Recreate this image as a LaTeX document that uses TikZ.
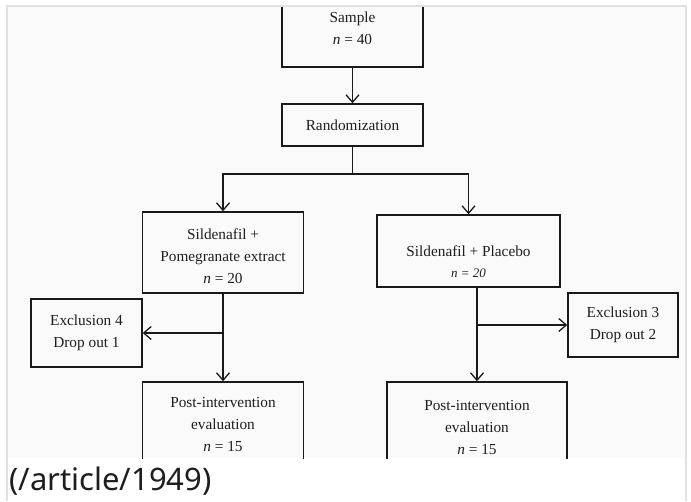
\documentclass[tikz,border=0pt]{standalone}
\usepackage{fontspec}
\setmainfont{Liberation Serif}
\newfontfamily\footfont{Noto Sans}
\usetikzlibrary{arrows.meta}
\definecolor{linecol}{HTML}{1A1A1A}
\definecolor{textcol}{HTML}{1E1E1E}
\definecolor{panelbg}{HTML}{FAFAFA}
\definecolor{framecol}{HTML}{E2E2E2}
\begin{document}
\begin{tikzpicture}[x=1pt,y=-1pt,
  box/.style={draw=linecol, line width=1.5pt, inner sep=0pt, align=center,
    text=textcol, font=\fontsize{15.3}{22}\selectfont},
  conn/.style={draw=linecol, line width=1.3pt},
  arr/.style={conn, -{Straight Barb[length=7.5pt,width=13pt,line width=1.3pt]}},
  footer/.style={font=\footfont\fontsize{31}{36}\selectfont, text=textcol, inner sep=0pt}]
\useasboundingbox (0,0) rectangle (691,501);
\fill[white] (0,0) rectangle (691,501);
\fill[panelbg] (7,6) rectangle (686,458);
\draw[framecol, line width=1.5pt] (7,501) -- (7,6) -- (686,6) -- (686,501);
\begin{scope}
\clip (8,7) rectangle (685,458);
\node[box, minimum width=141, minimum height=77] (sample) at (352.5,28.5)
  {Sample\\\textit{n} = 40};
\node[box, minimum width=141, minimum height=42] (rand) at (352.5,125)
  {Randomization};
\node[box, minimum width=161, minimum height=81] (lbox) at (223,252.5)
  {\rule{0pt}{19pt}Sildenafil +\\Pomegranate extract\\\textit{n} = 20};
\node[box, minimum width=183, minimum height=72] (rbox) at (468.5,251)
  {\rule{0pt}{32pt}Sildenafil + Placebo\\[-1pt]{\fontsize{13}{15}\selectfont\itshape n = 20}};
\node[box, minimum width=111, minimum height=68] (excl4) at (86.5,333)
  {Exclusion 4\\Drop out 1};
\node[box, minimum width=110, minimum height=64] (excl3) at (623,325)
  {Exclusion 3\\Drop out 2};
\node[box, minimum width=161, minimum height=86] (lpost) at (223,425)
  {Post-intervention\\evaluation\\\textit{n} = 15};
\node[box, minimum width=180, minimum height=92] (rpost) at (477,428)
  {Post-intervention\\evaluation\\\textit{n} = 15};
\coordinate (split) at (352.5,174);
\draw[arr] (sample) -- (rand);
\draw[conn] (rand.south) -- (split);
\draw[arr] (split) -| (lbox.north);
\draw[arr] (split) -| (rbox.north);
\draw[arr] (lbox.south) -- (lpost.north);
\draw[arr] (lbox.south |- excl4.east) -- (excl4.east);
\draw[arr] (rpost.north |- rbox.south) -- (rpost.north);
\draw[arr] (rpost.north |- excl3.west) -- (excl3.west);
\end{scope}
\node[footer, anchor=base west] (foot) at (9,490) {(/article/1949)};
\end{tikzpicture}
\end{document}
